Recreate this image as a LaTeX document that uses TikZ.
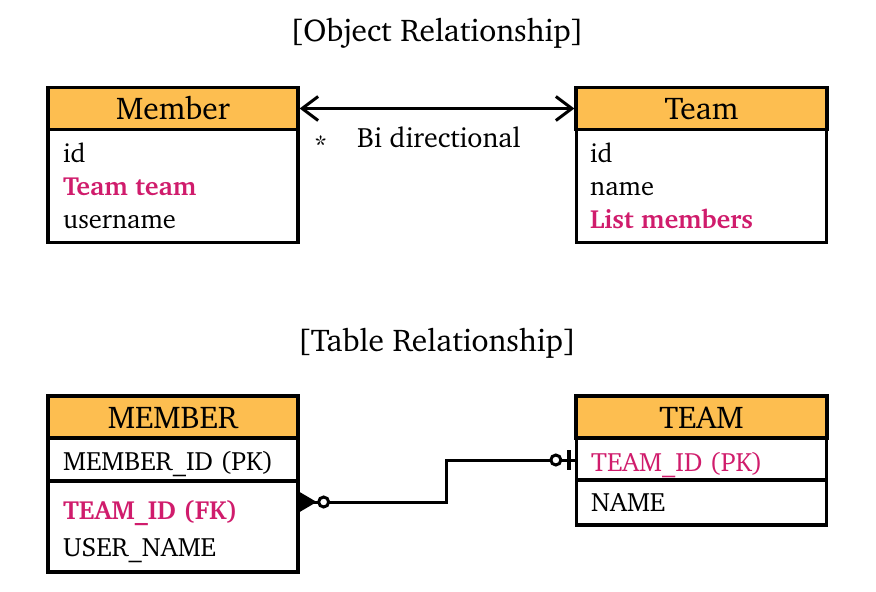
\documentclass[tikz,border=0pt]{standalone}
\usepackage[T1]{fontenc}
\usepackage{charter}
\usetikzlibrary{arrows.meta}
\definecolor{hdrfill}{RGB}{253,190,80}
\definecolor{pinkc}{RGB}{208,28,108}
\tikzset{
  boxline/.style={draw=black, line width=3.3pt},
  hdr/.style={boxline, fill=hdrfill, minimum width=250pt, minimum height=42pt, inner sep=0pt},
  hdrtxt/.style={anchor=base, inner sep=0pt, font=\fontsize{31.5}{34}\selectfont},
  bodybox/.style={boxline, fill=white, minimum width=250pt, inner sep=0pt},
  fld/.style={anchor=base west, inner sep=0pt, font=\fontsize{26.5}{29}\selectfont},
  pk/.style={fld, text=pinkc},
  pkb/.style={fld, text=pinkc, font=\fontsize{26.2}{29}\selectfont\bfseries},
  ttl/.style={anchor=base, inner sep=0pt, font=\fontsize{31.5}{34}\selectfont},
  conn/.style={line width=3pt, draw=black},
}
\begin{document}
\begin{tikzpicture}[x=1pt,y=-1pt]
\useasboundingbox (0,0) rectangle (876,592);
% titles
\node[ttl] (t1) at (437,41) {[Object Relationship]};
\node[ttl] (t2) at (437,351) {[Table Relationship]};
% Member (object)
\node[bodybox, minimum height=113pt] (mb) at (173,186) {};
\node[hdr] (mh) at (173,108.5) {};
\node[hdrtxt] (mht) at (173,119) {Member};
\node[fld] (m1) at (63,162) {id};
\node[pkb] (m2) at (63,195) {Team team};
\node[fld] (m3) at (63,228) {username};
% Team (object)
\node[bodybox, minimum height=113pt] (tb) at (701.5,186) {};
\node[hdr, minimum width=251pt] (th) at (701.5,108.5) {};
\node[hdrtxt] (tht) at (701.5,119) {Team};
\node[fld] (n1) at (590,162) {id};
\node[fld] (n2) at (590,195) {name};
\node[pkb] (n3) at (590,228) {List members};
% bidirectional arrow
\draw[conn, {Straight Barb[length=16pt,width=24pt,line width=3pt]}-{Straight Barb[length=16pt,width=24pt,line width=3pt]}] (mh.east) -- (th.west);
\node[fld] (star) at (314,154) {*};
\node[fld, font=\fontsize{28}{30}\selectfont] (bi) at (357,147) {Bi directional};
% MEMBER table
\node[bodybox, minimum height=91pt] (Mr2) at (173,526.5) {};
\node[bodybox, minimum height=43pt] (Mr1) at (173,459.5) {};
\node[hdr] (Mh) at (173,417) {};
\node[hdrtxt] (Mht) at (173,428) {MEMBER};
\node[fld] (M1) at (63,470) {MEMBER\_ID (PK)};
\node[pkb] (M2) at (63,519) {TEAM\_ID (FK)};
\node[fld] (M3) at (63,556) {USER\_NAME};
% TEAM table
\node[bodybox, minimum height=45pt] (Tr2) at (701.5,502.5) {};
\node[bodybox, minimum height=42pt] (Tr1) at (701.5,459) {};
\node[hdr, minimum width=251pt] (Th) at (701.5,417) {};
\node[hdrtxt] (Tht) at (701.5,428) {TEAM};
\node[pk] (T1) at (591,471.5) {TEAM\_ID (PK)};
\node[fld] (T2) at (591,511.5) {NAME};
% relationship connector
\coordinate (ca) at (Mr2.east |- 0,502);
\coordinate (cb) at (Tr1.west |- 0,460);
\draw[conn] (ca) -- ++(147,0) |- (cb);
\fill (ca) ++(0,-10) -- ++(17,10) -- ++(-17,10) -- cycle;
\draw[conn, fill=white] (ca) ++(24,0) circle (5pt);
\draw[conn, fill=white] (cb) ++(-19,0) circle (5pt);
\draw[line width=3.3pt] (cb) ++(-6,-10) -- ++(0,20);
\end{tikzpicture}
\end{document}
